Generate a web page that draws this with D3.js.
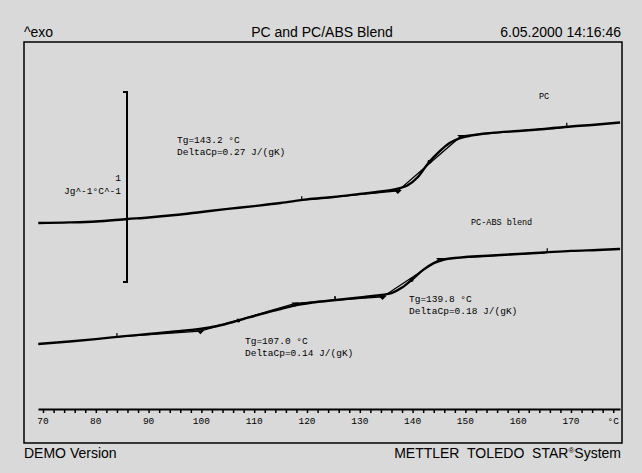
<!DOCTYPE html>
<html>
<head>
<meta charset="utf-8">
<script src="https://cdn.jsdelivr.net/npm/d3@7"></script>
<style>
  body { margin: 0; background: #d9d9d9; }
  svg { display: block; }
  .hdr { font-family: "Liberation Sans", Arial, sans-serif; font-size: 14px; fill: #000; white-space: pre; }
  .mono { font-family: "Liberation Mono", "Courier New", monospace; fill: #000; }
</style>
</head>
<body>
<div id="chart"></div>
<script>
// temperature (°C) and heat flow (J g^-1 °C^-1, arbitrary offset)
var pcTemp = [69.1, 75, 80, 86, 90, 95, 100, 105, 110, 115, 120, 125, 130, 134, 137, 139, 141, 143, 145, 147, 149, 151, 155, 160, 165, 170, 175, 179.3];
var pcFlow = [1.158, 1.161, 1.166, 1.179, 1.187, 1.200, 1.216, 1.232, 1.247, 1.263, 1.282, 1.295, 1.311, 1.324, 1.337, 1.355, 1.400, 1.474, 1.532, 1.579, 1.605, 1.618, 1.632, 1.642, 1.653, 1.666, 1.676, 1.687];

var blendTemp = [69.1, 75, 80, 85, 90, 95, 100, 103, 106, 109, 112, 115, 118, 121, 125, 130, 134, 136, 138, 140, 142, 144, 146, 148, 150, 155, 160, 165, 170, 175, 179.3];
var blendFlow = [0.521, 0.534, 0.547, 0.561, 0.574, 0.587, 0.601, 0.616, 0.637, 0.661, 0.684, 0.705, 0.726, 0.739, 0.751, 0.766, 0.779, 0.789, 0.818, 0.863, 0.911, 0.947, 0.966, 0.974, 0.979, 0.987, 0.995, 1.003, 1.011, 1.016, 1.021];

// glass transition evaluations: [left limit, onset, midpoint, endset, right limit]
var pcSteps = [[119, 137.2, 143.2, 149.2, 169.2]];
var blendSteps = [[84, 99.8, 107.0, 117.8, 125.3], [125.3, 134.3, 139.8, 145.2, 165.5]];

var tickTemps = d3.range(70, 179, 2);
var labelTemps = [70, 80, 90, 100, 110, 120, 130, 140, 150, 160, 170];

var barBase = 0.847; // scale bar, 1 unit long

var W = 642, H = 473;

var svg = d3.select("#chart").append("svg")
  .attr("width", W)
  .attr("height", H);

svg.append("rect").attr("width", W).attr("height", H).attr("fill", "#d9d9d9");

// header
svg.append("text").attr("class", "hdr").attr("x", 24).attr("y", 37).text("^exo");
svg.append("text").attr("class", "hdr").attr("x", 322).attr("y", 37)
  .attr("text-anchor", "middle").text("PC and PC/ABS Blend");
svg.append("text").attr("class", "hdr").attr("x", 621).attr("y", 37)
  .attr("font-size", "13px")
  .attr("text-anchor", "end").text("6.05.2000 14:16:46");

// frame
svg.append("rect")
  .attr("x", 24).attr("y", 42)
  .attr("width", 598).attr("height", 401)
  .attr("fill", "none").attr("stroke", "#000").attr("stroke-width", 1.5);

// footer
svg.append("text").attr("class", "hdr").attr("x", 24).attr("y", 458).text("DEMO Version");
var foot = svg.append("text").attr("class", "hdr").attr("x", 621).attr("y", 458)
  .attr("text-anchor", "end");
foot.append("tspan").text("METTLER  TOLEDO  STAR");
foot.append("tspan").attr("font-size", "8px").attr("dy", -5).text("®");
foot.append("tspan").attr("dy", 5).text("System");

// scales
var x = d3.scaleLinear().domain([69.05, 179.28]).range([38, 620]);
var y = d3.scaleLinear().domain([0, 2.1]).range([443, 44]);

// x axis
var xAxis = d3.axisBottom(x)
  .tickValues(tickTemps)
  .tickSize(4)
  .tickSizeOuter(0)
  .tickFormat(function(d) { return ""; });

var gx = svg.append("g")
  .attr("transform", "translate(0,409)")
  .call(xAxis);
gx.select(".domain").attr("stroke-width", 2);
gx.selectAll(".tick line").attr("stroke-width", 1.5);

gx.selectAll(".lbl")
  .data(labelTemps)
  .enter().append("text")
    .attr("class", "mono")
    .attr("x", function(d) { return x(d); })
    .attr("y", 15)
    .attr("text-anchor", "middle")
    .attr("font-size", "9.5px")
    .text(function(d) { return d; });
gx.append("text")
  .attr("class", "mono")
  .attr("x", x(178)).attr("y", 15)
  .attr("text-anchor", "middle")
  .attr("font-size", "9.5px")
  .text("°C");

// scale bar
var bx = 127;
svg.append("path")
  .attr("d", "M" + (bx - 4) + "," + y(barBase + 1) + "H" + bx + "V" + y(barBase) + "H" + (bx - 4))
  .attr("fill", "none").attr("stroke", "#000").attr("stroke-width", 2);
svg.append("text").attr("class", "mono").attr("font-size", "9.5px")
  .attr("x", 121).attr("y", 181).attr("text-anchor", "end").text("1");
svg.append("text").attr("class", "mono").attr("font-size", "9.5px")
  .attr("x", 121).attr("y", 194).attr("text-anchor", "end").text("Jg^-1°C^-1");

// curves
var line = d3.line()
  .x(function(d) { return x(d[0]); })
  .y(function(d) { return y(d[1]); })
  .curve(d3.curveMonotoneX);

function drawCurve(temps, flows, steps) {
  var pts = d3.zip(temps, flows);
  var at = function(t) {
    var i = d3.bisectLeft(temps, t);
    if (i <= 0) return flows[0];
    if (i >= temps.length) return flows[flows.length - 1];
    var t0 = temps[i - 1], t1 = temps[i];
    return flows[i - 1] + (flows[i] - flows[i - 1]) * (t - t0) / (t1 - t0);
  };

  svg.append("path")
    .datum(pts)
    .attr("d", line)
    .attr("fill", "none")
    .attr("stroke", "#000")
    .attr("stroke-width", 2.4);

  steps.forEach(function(s) {
    var onset = [s[1], at(s[1]) - 0.012];
    var endset = [s[3], at(s[3]) + 0.010];
    var tang = [[s[0], at(s[0])], onset, endset, [s[4], at(s[4])]];
    svg.append("path")
      .datum(tang)
      .attr("d", d3.line().x(function(d) { return x(d[0]); }).y(function(d) { return y(d[1]); }))
      .attr("fill", "none")
      .attr("stroke", "#000")
      .attr("stroke-width", 1.3);

    // limit ticks
    [s[0], s[4]].forEach(function(t) {
      svg.append("line")
        .attr("x1", x(t)).attr("x2", x(t))
        .attr("y1", y(at(t))).attr("y2", y(at(t)) - 4)
        .attr("stroke", "#000").attr("stroke-width", 1.2);
    });

    // onset / endset markers
    [onset, endset].forEach(function(p) {
      var px = x(p[0]), py = y(p[1]);
      svg.append("path")
        .attr("d", "M" + (px - 4) + "," + (py - 1) + "L" + (px + 4) + "," + (py - 1) + "L" + px + "," + (py + 3) + "Z")
        .attr("fill", "#000");
    });

    // midpoint
    svg.append("circle")
      .attr("cx", x(s[2])).attr("cy", y(at(s[2])))
      .attr("r", 2).attr("fill", "#000");
  });
}

drawCurve(pcTemp, pcFlow, pcSteps);
drawCurve(blendTemp, blendFlow, blendSteps);

// annotations
function note(tx, ty, lines, size) {
  lines.forEach(function(s, i) {
    svg.append("text").attr("class", "mono")
      .attr("font-size", size)
      .attr("x", tx).attr("y", ty + i * 12)
      .text(s);
  });
}
note(177, 143, ["Tg=143.2 °C", "DeltaCp=0.27 J/(gK)"], "9.5px");
note(409, 302, ["Tg=139.8 °C", "DeltaCp=0.18 J/(gK)"], "9.5px");
note(245, 344, ["Tg=107.0 °C", "DeltaCp=0.14 J/(gK)"], "9.5px");
note(539, 99, ["PC"], "8.5px");
note(471, 225, ["PC-ABS blend"], "8.5px");
</script>
</body>
</html>
